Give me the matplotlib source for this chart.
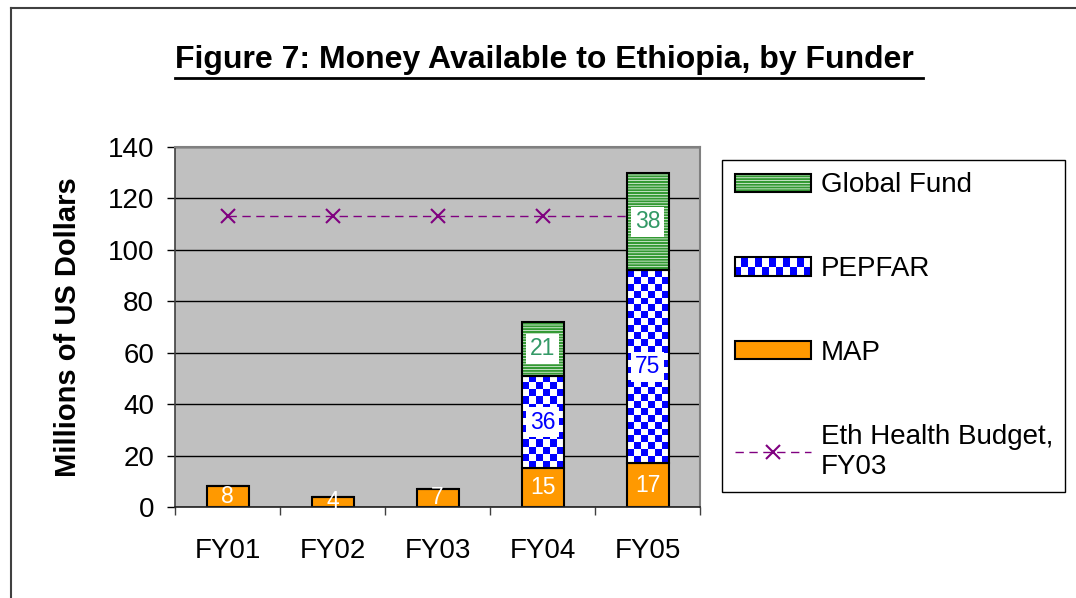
import numpy as np
import matplotlib
matplotlib.use('Agg')
import matplotlib.pyplot as plt
from matplotlib.patches import Rectangle, Patch
from matplotlib.lines import Line2D
from matplotlib.colors import ListedColormap
from matplotlib.legend_handler import HandlerBase, HandlerTuple

plt.rcParams['font.family'] = ['Liberation Sans', 'DejaVu Sans']
plt.rcParams['hatch.linewidth'] = 1.5

# data (millions of US dollars)
years = ['FY01', 'FY02', 'FY03', 'FY04', 'FY05']
map_vals = [8, 4, 7, 15, 17]
pepfar_vals = [0, 0, 0, 36, 75]
gf_vals = [0, 0, 0, 21, 38]
budget_fy03 = [113, 113, 113, 113, 113]

ORANGE = '#FF9900'
BLUE = '#0000FF'
GREEN = '#339933'
PURPLE = '#800080'

W, H = 1076, 598
fig = plt.figure(figsize=(W / 100, H / 100), dpi=100)
ax = fig.add_axes([175 / W, 1 - 507 / H, 525 / W, 360 / H])
ax.set_facecolor('#C0C0C0')

x = np.arange(len(years))
ax.set_xlim(-0.5, len(years) - 0.5)
ax.set_ylim(0, 140)
ax.set_yticks(range(0, 141, 20))
ax.yaxis.grid(True, color='black', lw=1)
ax.set_axisbelow(True)

# budget line sits behind the bars
ax.plot(x, budget_fy03, color=PURPLE, lw=1, ls=(0, (6, 4)), marker='x',
        ms=10, mew=1.5, zorder=1.5)

bw = 0.4
map_arr = np.array(map_vals)
pep_arr = np.array(pepfar_vals)
gf_arr = np.array(gf_vals)

# MAP
ax.bar(x, map_arr, bw, color=ORANGE, edgecolor='black', lw=1.5, zorder=2)

# PEPFAR - white base, checker texture, outline
pep_bars = ax.bar(x, pep_arr, bw, bottom=map_arr, color='white', lw=0, zorder=2)
checker_cmap = ListedColormap(['white', BLUE])
for p in pep_bars:
    if p.get_height() <= 0:
        continue
    x0, y0 = p.get_x(), p.get_y()
    w, h = p.get_width(), p.get_height()
    p0 = ax.transData.transform((x0, y0))
    p1 = ax.transData.transform((x0 + w, y0 + h))
    ncols = max(1, int(round((p1[0] - p0[0]) / 7)))
    nrows = max(1, int(round((p1[1] - p0[1]) / 7)))
    tex = np.add.outer(np.arange(nrows), np.arange(ncols)) % 2
    ax.imshow(tex, cmap=checker_cmap, extent=[x0, x0 + w, y0, y0 + h],
              origin='lower', aspect='auto', interpolation='nearest',
              clip_path=p, zorder=2.1)
ax.bar(x, pep_arr, bw, bottom=map_arr, fill=False, edgecolor='black', lw=1.5,
       zorder=2.3)
for i in range(len(x)):
    if pep_arr[i] == 0:
        pep_bars[i].set_visible(False)

# Global Fund - horizontal stripes
gf_bottom = map_arr + pep_arr
gf_bars = ax.bar(x, gf_arr, bw, bottom=gf_bottom, facecolor='white',
                 edgecolor=GREEN, hatch='------', lw=0, zorder=2)
gf_out = ax.bar(x, gf_arr, bw, bottom=gf_bottom, fill=False, edgecolor='black',
                lw=1.5, zorder=2.3)
for i in range(len(x)):
    if gf_arr[i] == 0:
        gf_bars[i].set_visible(False)
        gf_out[i].set_visible(False)

ax.set_xlim(-0.5, len(years) - 0.5)
ax.set_ylim(0, 140)

# value labels
for i in range(len(x)):
    ax.text(x[i], map_arr[i] / 2, str(map_arr[i]), ha='center', va='center',
            color='white', fontsize=16.5, zorder=3)
    if pep_arr[i] > 0:
        ax.text(x[i], map_arr[i] + pep_arr[i] / 2, str(pep_arr[i]),
                ha='center', va='center', color=BLUE, fontsize=16.5, zorder=3,
                bbox=dict(facecolor='white', edgecolor='none', pad=2.5))
    if gf_arr[i] > 0:
        ax.text(x[i], gf_bottom[i] + gf_arr[i] / 2, str(gf_arr[i]),
                ha='center', va='center', color='#339966', fontsize=16.5,
                zorder=3, bbox=dict(facecolor='white', edgecolor='none', pad=2.5))

# axes styling
ax.set_xticks(x)
ax.set_xticklabels(years)
ax.set_xticks(np.arange(-0.5, len(years)), minor=True)
ax.tick_params(axis='x', which='major', length=0, pad=22, labelsize=20)
ax.tick_params(axis='x', which='minor', length=6, direction='out',
               color='#404040', width=1)
ax.tick_params(axis='y', length=6, direction='out', pad=9, labelsize=20,
               color='black', width=1)
for s in ['top', 'right']:
    ax.spines[s].set_color('#808080')
    ax.spines[s].set_linewidth(1.5)
ax.spines['left'].set_color('#404040')
ax.spines['bottom'].set_color('#202020')
ax.spines['left'].set_linewidth(1.2)
ax.spines['bottom'].set_linewidth(1.2)

fig.text(68 / W, 1 - 327 / H, 'Millions of US Dollars', rotation=90,
         ha='center', va='center', fontsize=21, fontweight='bold')


# legend
class CheckerHandler(HandlerBase):
    def create_artists(self, legend, orig_handle, xdescent, ydescent,
                       width, height, fontsize, trans):
        x0, y0 = -xdescent, -ydescent
        arts = [Rectangle((x0, y0), width, height, facecolor='white',
                          edgecolor='none', transform=trans)]
        nr, nc = 2, 11
        cw, ch = width / nc, height / nr
        for r in range(nr):
            for c in range(nc):
                if (r + c) % 2 == 0:
                    arts.append(Rectangle((x0 + c * cw, y0 + r * ch), cw, ch,
                                          facecolor=BLUE, edgecolor='none',
                                          transform=trans))
        arts.append(Rectangle((x0, y0), width, height, fill=False,
                              edgecolor='black', lw=1.5, transform=trans))
        return arts


gf_handle = (Patch(facecolor='white', edgecolor=GREEN, hatch='------', lw=0),
             Patch(fill=False, edgecolor='black', lw=1.5))
pep_handle = Patch(facecolor='white')
map_handle = Patch(facecolor=ORANGE, edgecolor='black', lw=1.5)
line_handle = Line2D([], [], color=PURPLE, lw=1, ls=(0, (6, 4)), marker='x',
                     ms=10, mew=1.5)

leg = ax.legend([gf_handle, pep_handle, map_handle, line_handle],
                ['Global Fund', 'PEPFAR', 'MAP', 'Eth Health Budget,\nFY03'],
                handler_map={tuple: HandlerTuple(ndivide=1),
                             pep_handle: CheckerHandler()},
                loc='upper left', bbox_to_anchor=(722 / W, 1 - 160 / H),
                bbox_transform=fig.transFigure, borderaxespad=0,
                borderpad=0.45, fancybox=False, framealpha=1,
                edgecolor='black', fontsize=20, labelspacing=2.08,
                handlelength=2.75, handleheight=0.64, handletextpad=0.35,
                numpoints=1)
leg.get_frame().set_linewidth(1)

# title with underline
title = fig.text(0.51, 1 - 68 / H, 'Figure 7: Money Available to Ethiopia, by Funder ',
                 ha='center', va='baseline', fontsize=23, fontweight='bold')
fig.canvas.draw()
bb = title.get_window_extent(fig.canvas.get_renderer())
fig.add_artist(Line2D([bb.x0 / W, bb.x1 / W], [1 - 78 / H, 1 - 78 / H],
                      transform=fig.transFigure, color='black', lw=2))

# outer chart frame (top and left edges)
fig.add_artist(Line2D([11 / W, 11 / W], [0, 1 - 8 / H],
                      transform=fig.transFigure, color='#404040', lw=1.5))
fig.add_artist(Line2D([11 / W, 1], [1 - 8 / H, 1 - 8 / H],
                      transform=fig.transFigure, color='#404040', lw=1.5))

fig.savefig('out.png', dpi=100, facecolor='white')
